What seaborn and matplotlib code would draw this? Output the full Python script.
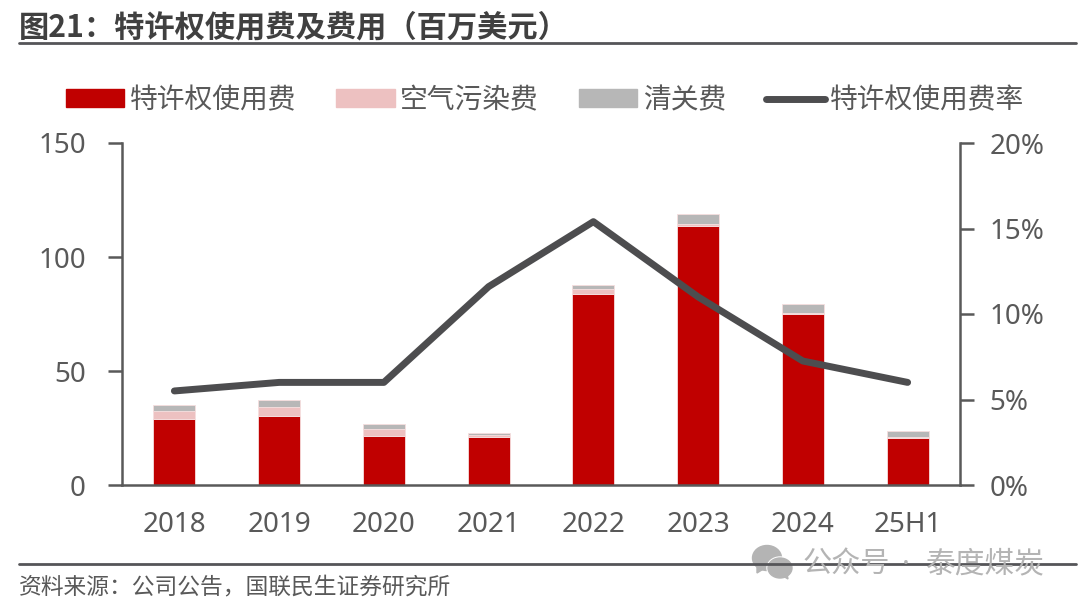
import numpy as np
import matplotlib
matplotlib.use('Agg')
import matplotlib.pyplot as plt
import seaborn as sns
from matplotlib.lines import Line2D
from matplotlib.patches import Ellipse, Patch, Polygon

# --- Data ---
years = ['2018', '2019', '2020', '2021', '2022', '2023', '2024', '25H1']
royalty = [29.0, 30.4, 21.6, 20.9, 83.6, 113.7, 74.9, 20.7]
air_fee = [3.4, 3.8, 2.8, 1.1, 2.2, 0.6, 0.4, 0.4]
clearing_fee = [2.9, 2.9, 2.2, 0.8, 1.9, 4.4, 3.9, 2.6]
royalty_rate = [5.5, 6.0, 6.0, 11.6, 15.4, 11.0, 7.25, 6.0]

names = ['特许权使用费', '空气污染费', '清关费', '特许权使用费率']
colors = ['#C00000', '#EDC1C1', '#B7B7B7', '#4D4D4F']

W, H = 1080, 607
GREY = '#595959'

sns.set_theme(style='white')
plt.rcParams['font.family'] = ['Noto Sans', 'Noto Sans CJK SC', 'DejaVu Sans']

fig = plt.figure(figsize=(W / 100, H / 100), dpi=100)
ax = fig.add_axes([122 / W, 1 - 485 / H, (960 - 122) / W, (485 - 143) / H])

# stacked bars
base = np.zeros(len(years))
for vals, col in zip([royalty, air_fee, clearing_fee], colors):
    sns.barplot(x=years, y=vals, bottom=base, color=col, saturation=1, width=0.4,
                edgecolor='#F6DEDE', linewidth=0.6, ax=ax)
    base = base + np.array(vals)

ax.set_xlim(-0.5, 7.5)
ax.set_ylim(0, 150)
ax.set_yticks([0, 50, 100, 150])
ax.set_xticks(np.arange(-0.5, 8), minor=True)
ax.tick_params(axis='x', which='major', length=0, labelsize=20, labelcolor=GREY, pad=18.5)
ax.tick_params(axis='x', which='minor', length=8, width=1.8, color=GREY)
ax.tick_params(axis='y', length=10, width=1.8, color=GREY, labelsize=20, labelcolor=GREY, pad=16)
for s in ['top', 'right']:
    ax.spines[s].set_visible(False)
for s in ['left', 'bottom']:
    ax.spines[s].set_color(GREY)
    ax.spines[s].set_linewidth(1.8)

# rate line on the right axis
ax2 = ax.twinx()
sns.lineplot(x=range(len(years)), y=royalty_rate, color=colors[3], linewidth=5,
             solid_capstyle='round', ax=ax2)
ax2.set_ylim(0, 20)
ax2.set_yticks([0, 5, 10, 15, 20])
ax2.set_yticklabels(['0%', '5%', '10%', '15%', '20%'])
ax2.grid(False)
ax.grid(False)
ax2.tick_params(axis='y', length=10, width=1.8, color=GREY, labelsize=20, labelcolor=GREY, pad=11)
for s in ['top', 'left', 'bottom']:
    ax2.spines[s].set_visible(False)
ax2.spines['right'].set_color(GREY)
ax2.spines['right'].set_linewidth(1.8)

# legend
handles = [Patch(color=colors[0]), Patch(color=colors[1]), Patch(color=colors[2]),
           Line2D([0], [0], color=colors[3], lw=5, solid_capstyle='round')]
fig.legend(handles, names, ncol=4, loc='center left', bbox_to_anchor=(65.5 / W, 1 - 101 / H),
           frameon=False, fontsize=20, labelcolor=GREY, handlelength=2.12, handleheight=0.6,
           handletextpad=0.2, columnspacing=1.42, borderpad=0, borderaxespad=0)

# title, rules, source
fig.text(19 / W, 1 - 27 / H, '图21：特许权使用费及费用（百万美元）', fontsize=21.8, fontweight='bold',
         family=['Noto Sans CJK SC', 'DejaVu Sans'], color='#404040', va='center', ha='left')
fig.add_artist(Line2D([19 / W, 1076 / W], [1 - 43 / H] * 2, color='#555558', lw=2))
fig.add_artist(Line2D([19 / W, 1076 / W], [1 - 563.5 / H] * 2, color='#555558', lw=2))
fig.text(19 / W, 1 - 587 / H, '资料来源：公司公告，国联民生证券研究所', fontsize=16.4, color=GREY,
         va='center', ha='left')

# watermark
WM = '#B4B4B4'
def px_ellipse(cx, cy, w, h, col):
    fig.add_artist(Ellipse((cx / W, 1 - cy / H), w / W, h / H, color=col, transform=fig.transFigure))
px_ellipse(767, 558, 29, 25, WM)
fig.add_artist(Polygon([(757 / W, 1 - 566 / H), (757 / W, 1 - 573 / H), (765 / W, 1 - 568 / H)],
                       color=WM, transform=fig.transFigure))
px_ellipse(780, 568, 26, 22, 'white')
px_ellipse(780, 568, 24, 20, WM)
fig.add_artist(Polygon([(783 / W, 1 - 576 / H), (788 / W, 1 - 579 / H), (787 / W, 1 - 574 / H)],
                       color=WM, transform=fig.transFigure))
fig.text(803 / W, 1 - 565 / H, '公众号', fontsize=21, color=WM, va='center', ha='left')
fig.text(906 / W, 1 - 565 / H, '·', fontsize=21, color=WM, va='center', ha='center')
fig.text(926 / W, 1 - 565 / H, '泰度煤炭', fontsize=21.4, color=WM, va='center', ha='left')

fig.savefig('out.png', dpi=100)
